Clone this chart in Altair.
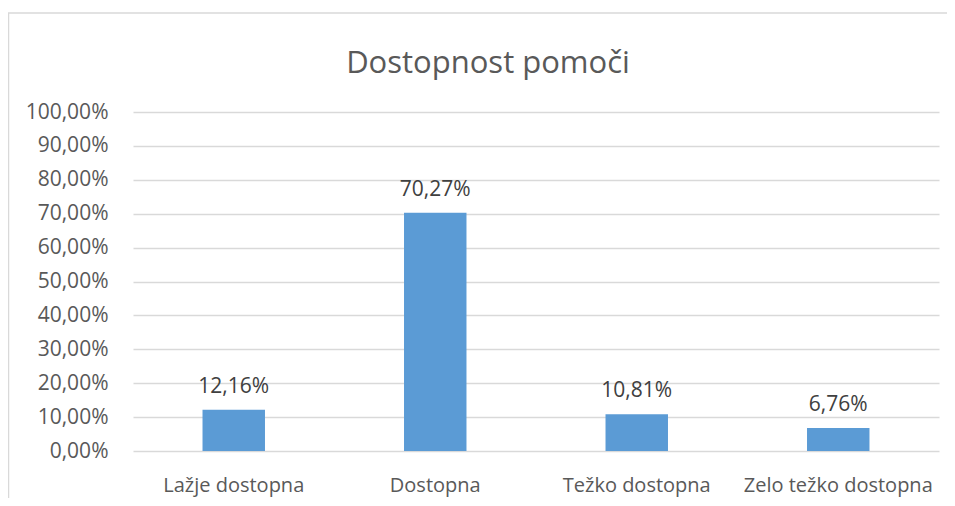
import altair as alt
import pandas as pd

categories = ["Lažje dostopna", "Dostopna", "Težko dostopna", "Zelo težko dostopna"]
values = [12.16, 70.27, 10.81, 6.76]
y_ticks = [0, 10, 20, 30, 40, 50, 60, 70, 80, 90, 100]

labels = [f"{v:.2f}".replace(".", ",") + "%" for v in values]
df = pd.DataFrame({"cat": categories, "val": values, "lab": labels})

FONT = "Open Sans"
AXIS_GRAY = "#595959"
GRID = "#d9d9d9"
BAR = "#5B9BD5"

x_enc = alt.X(
    "cat:N",
    sort=categories,
    title=None,
    scale=alt.Scale(paddingInner=0.69, paddingOuter=0.345),
    axis=alt.Axis(
        labelAngle=0,
        labelFont=FONT,
        labelFontSize=20,
        labelColor=AXIS_GRAY,
        labelBaseline="alphabetic",
        labelPadding=40,
        labelLimit=400,
        labelOverlap=False,
        ticks=False,
        tickSize=0,
        domain=False,
        grid=False,
    ),
)
y_enc = alt.Y(
    "val:Q",
    title=None,
    scale=alt.Scale(domain=[0, 100], nice=False),
    axis=alt.Axis(
        values=y_ticks,
        labelExpr="replace(format(datum.value, '.2f'), '.', ',') + '%'",
        labelFont=FONT,
        labelFontSize=21,
        labelColor=AXIS_GRAY,
        labelPadding=25,
        labelOverlap=False,
        ticks=False,
        tickSize=0,
        domain=False,
        grid=True,
        gridColor=GRID,
        gridWidth=1.5,
    ),
)

border = alt.Chart(alt.Data(values=[{"a": 1}])).mark_rect(
    filled=False, stroke=GRID, strokeWidth=1.5
).encode(
    x=alt.value(-124.5), x2=alt.value(1200), y=alt.value(-99), y2=alt.value(800)
)

bars = alt.Chart(df).mark_bar(color=BAR).encode(x=x_enc, y=y_enc)

text = alt.Chart(df).mark_text(
    font=FONT, fontSize=21, color="#404040", baseline="alphabetic", dy=-17
).encode(x=x_enc, y=y_enc, text="lab:N")

chart = alt.layer(border, bars, text).properties(
    width=806,
    height=339,
    background="white",
    padding={"left": 125, "top": 104, "right": 8, "bottom": 47},
    autosize=alt.AutoSizeParams(type="none"),
    title=alt.TitleParams(
        "Dostopnost pomoči",
        font=FONT,
        fontSize=31,
        fontWeight="normal",
        color=AXIS_GRAY,
        anchor="middle",
        frame="group",
        baseline="alphabetic",
        offset=0,
        dy=92,
        dx=-48,
    ),
).configure_view(strokeWidth=0, stroke=None)

chart.save("out.html", embed_options={"renderer": "svg", "actions": False})
